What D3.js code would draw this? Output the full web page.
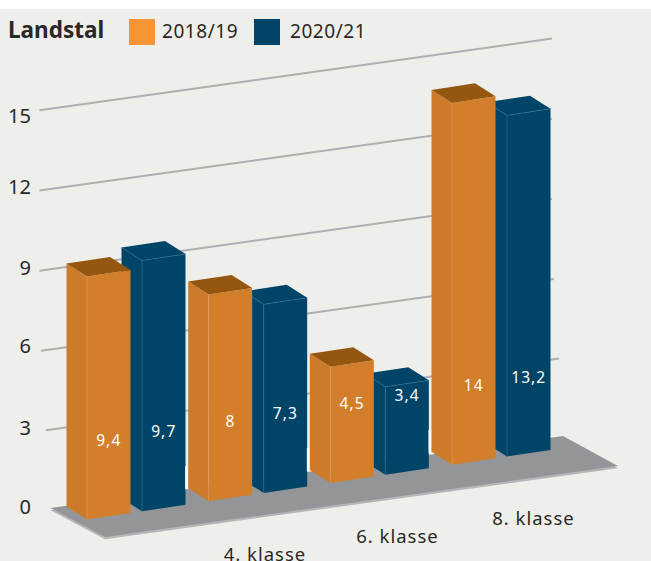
<!DOCTYPE html>
<html><head><meta charset="utf-8">
<script src="https://cdn.jsdelivr.net/npm/d3@7"></script>
<style>html,body{margin:0;padding:0;background:#fff;overflow:hidden}svg{display:block}text{font-family:"Noto Sans",sans-serif}</style>
</head><body><div id="c"></div>
<script>
const title = "Landstal";
const groups = ["g1","g2","g3","g4"];
const categoryLabels = ["4. klasse","6. klasse","8. klasse"];
const series = ["2018/19","2020/21"];
const values2018 = [9.4,8,4.5,14];
const values2020 = [9.7,7.3,3.4,13.2];
const labels2018 = ["9,4","8","4,5","14"];
const labels2020 = ["9,7","7,3","3,4","13,2"];
const gridValues = [3,6,9,12,15];
const tickValues = [0,3,6,9,12,15];
const colors = {"2018/19":{swatch:"#f79433",front:"#d37e2b",side:"#cd7b2b",top:"#95570f",line:"#e39c5e"},
                "2020/21":{swatch:"#004467",front:"#004467",side:"#004467",top:"#004467",line:"#2f6f8f"}};

const W=651,H=561;
const svg=d3.select("#c").append("svg").attr("width",W).attr("height",H);
svg.append("rect").attr("width",W).attr("height",H).attr("fill","#fff");
svg.append("rect").attr("y",9).attr("width",W).attr("height",H-9).attr("fill","#eeefeb");

// projection constants
const barW=43.5, depth={x:-20.5,y:-13}, floorSlope=-0.15, gridSlope=-0.14;
const floorY=x=>519.5+floorSlope*(x-87);
const xGroup=d3.scalePoint().domain(groups).range([87,452]);
const xSeries=d3.scalePoint().domain(series).range([0,55]);
const hScale=d3.scaleLinear().domain([0,15]).range([0,387.7]);
const gridY=d3.scaleLinear().domain([0,15]).range([511.5,110.3]);
const tickY=d3.scaleLinear().domain(tickValues).range([507,428,346,268,187,116.5]);

// grid
const gridStart=v=>v>=9?39.5:(v===6?41:46), gridEnd=v=>v>=9?552:(v===6?554:559);
svg.append("g").selectAll("line").data(gridValues).join("line")
 .attr("x1",gridStart).attr("x2",gridEnd)
 .attr("y1",v=>gridY(v)+gridSlope*(gridStart(v)-39.5))
 .attr("y2",v=>gridY(v)+gridSlope*(gridEnd(v)-39.5))
 .attr("stroke","#aeaeb2").attr("stroke-width",2);

// floor
const fl=[[50.5,508],[105,537],[618,466],[563,436]];
const pts=p=>p.map(d=>d.join(",")).join(" ");
svg.append("polygon").attr("points",pts(fl.map(d=>[d[0],d[1]+2.2]))).attr("fill","#b6b6b9");
svg.append("polygon").attr("points",pts(fl)).attr("fill","#939598");

// bars
const rows=[];
groups.forEach((s,i)=>{
  rows.push({slot:s,ser:series[1],v:values2020[i],lab:labels2020[i]});
  rows.push({slot:s,ser:series[0],v:values2018[i],lab:labels2018[i]});
});
const bars=svg.append("g");
rows.forEach(r=>{
  const c=colors[r.ser];
  const x0=xGroup(r.slot)+xSeries(r.ser), x1=x0+barW, h=hScale(r.v);
  const yF=floorY(x0), yR=floorY(x1);
  const g=bars.append("g");
  const xL=x0+depth.x, yL=yF+depth.y;
  if(r.ser===series[0] && r.slot!==groups[0]){
    g.append("line").attr("x1",xL-1.5).attr("x2",xL-1.5).attr("y1",yL-22).attr("y2",yL+1)
     .attr("stroke","#f8fbfa").attr("stroke-width",3);
  }
  g.append("polygon").attr("points",pts([[xL,yL],[x0,yF],[x0,yF-h],[xL,yL-h]])).attr("fill",c.side);
  g.append("polygon").attr("points",pts([[x0,yF],[x1,yR],[x1,yR-h],[x0,yF-h]])).attr("fill",c.front);
  g.append("polygon").attr("points",pts([[xL,yL-h],[x0,yF-h],[x1,yR-h],[x1+depth.x,yR+depth.y-h]])).attr("fill",c.top);
  g.append("polyline").attr("points",pts([[xL,yL-h],[x0,yF-h],[x1,yR-h]])).attr("fill","none")
   .attr("stroke",r.ser===series[0]?"none":c.line).attr("stroke-width",.6);
  g.append("line").attr("x1",x0).attr("x2",x0).attr("y1",yF).attr("y2",yF-h).attr("stroke",c.line).attr("stroke-width",.7);
  g.append("text").attr("x",x0+barW/2).attr("y",(yF+yR)/2-76).attr("dy",".35em")
   .attr("text-anchor","middle").attr("fill","#fff").attr("font-size",15.5).attr("letter-spacing",1.1).text(r.lab);
});

// y axis labels
const axis=d3.axisLeft(tickY).tickValues(tickValues).tickSize(0).tickPadding(0);
const ag=svg.append("g").attr("transform","translate(31,0)").call(axis);
ag.select(".domain").remove();
ag.selectAll("text").attr("font-size",20).attr("fill","#2a2826").style("font-family",'"Noto Sans",sans-serif');

// category labels
svg.append("g").selectAll("text").data(categoryLabels).join("text")
 .text(d=>d).attr("x",(d,i)=>[265,397.5,533.5][i]).attr("y",(d,i)=>[561,543,525][i])
 .attr("text-anchor","middle").attr("font-size",18.5).attr("letter-spacing",1).attr("fill","#2a2826");

// legend
svg.append("text").attr("x",8).attr("y",38).attr("font-size",22.5).attr("font-weight",700).attr("fill","#2a2826").text(title);
const lx=d3.scaleOrdinal().domain(series).range([129,254]);
const lg=svg.append("g").selectAll("g").data(series).join("g").attr("transform",d=>`translate(${lx(d)},19)`);
lg.append("rect").attr("width",26).attr("height",26).attr("fill",d=>colors[d].swatch);
lg.append("text").attr("x",d=>d===series[0]?33:36).attr("y",19).attr("font-size",19).attr("letter-spacing",.55).attr("fill","#2a2826").text(d=>d);
</script></body></html>
